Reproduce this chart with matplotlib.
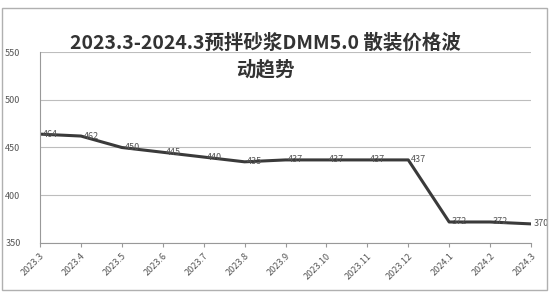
import matplotlib

matplotlib.use("Agg")
import matplotlib.pyplot as plt
from matplotlib.patches import Rectangle

plt.rcParams["font.family"] = ["Noto Sans CJK SC", "DejaVu Sans"]

months = ["2023.3", "2023.4", "2023.5", "2023.6", "2023.7", "2023.8", "2023.9",
          "2023.10", "2023.11", "2023.12", "2024.1", "2024.2", "2024.3"]
prices = [464, 462, 450, 445, 440, 435, 437, 437, 437, 437, 372, 372, 370]
y_ticks = [350, 400, 450, 500, 550]
title = "2023.3-2024.3预拌砂浆DMM5.0 散装价格波\n动趋势"

W, H = 549, 293
fig = plt.figure(figsize=(W / 100, H / 100), dpi=100)
fig.patch.set_facecolor("white")

# outer chart border
fig.add_artist(Rectangle((2 / W, 3 / H), 545 / W, 282 / H, transform=fig.transFigure,
                         fill=False, edgecolor="#b0b0b0", linewidth=1.0))

ax = fig.add_axes([40 / W, 50 / H, 491 / W, 191 / H])
x = list(range(len(months)))
ax.plot(x, prices, color="#3a3a3a", linewidth=2.2, solid_joinstyle="round")
for xi, v in zip(x, prices):
    ax.annotate(str(v), (xi, v), xytext=(2, 0), textcoords="offset points",
                ha="left", va="center", fontsize=6.5, color="#555555")

ax.set_xlim(0, len(months) - 1)
ax.set_ylim(350, 550)
ax.set_yticks(y_ticks)
ax.set_yticklabels([str(t) for t in y_ticks], fontsize=6.5, color="#555555")
ax.set_xticks(x)
ax.set_xticklabels(months, rotation=45, ha="right", rotation_mode="anchor",
                   fontsize=6.5, color="#555555")
ax.tick_params(axis="y", length=0, pad=14)
ax.tick_params(axis="x", length=3, color="#999999", pad=3)
ax.grid(axis="y", color="#bdbdbd", linewidth=0.8)
ax.set_axisbelow(True)
for s in ["top", "right"]:
    ax.spines[s].set_visible(False)
for s in ["left", "bottom"]:
    ax.spines[s].set_color("#999999")
    ax.spines[s].set_linewidth(0.8)

fig.text(265 / W, 1 - 56 / H, title, ha="center", va="center", fontsize=14,
         fontweight="bold", color="#333333", linespacing=1.45)

fig.savefig("out.png", dpi=100)
